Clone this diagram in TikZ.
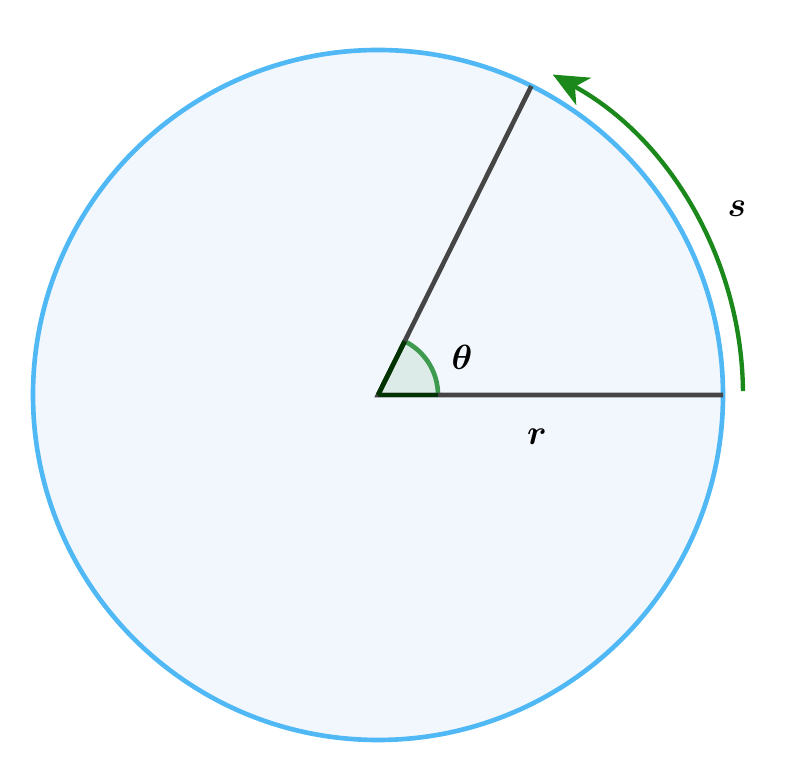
\documentclass[tikz,border=0pt]{standalone}
\usepackage{amssymb, amsmath}
\usepackage{bm}
\usepackage{tikz}
\usetikzlibrary{calc, arrows.meta, backgrounds}
\definecolor{circblue}{HTML}{4FB8F5}
\definecolor{circfill}{HTML}{F2F7FD}
\definecolor{raygray}{HTML}{454545}
\definecolor{arcgreen}{HTML}{1A881A}
\definecolor{anggreen}{HTML}{3E9A4E}
\tikzstyle{ray}=[raygray, line width=3.3pt]
\tikzstyle{lbl}=[inner sep=0pt, font=\fontsize{29}{32}\selectfont]
\tikzset{>={Stealth[length=25pt, width=22pt, inset=7pt]}}

\begin{document}
\begin{tikzpicture}
\useasboundingbox (0,0) rectangle (20.1,19.35);
% the centre and the two ends of the rays
\coordinate (O) at (9.45,9.475);
\coordinate (P) at ($(O)+(63.6:8.625)$);
\coordinate (Q) at ($(O)+(0:8.625)$);
% the circle
\draw[circblue, fill=circfill, line width=3.3pt] (O) circle (8.625);
% the angle
\fill[anggreen, opacity=.12] (O) -- ++(0:1.5) arc (0:63.6:1.5) -- cycle;
\draw[anggreen, line width=3.3pt] ($(O)+(0:1.5)$) arc (0:63.6:1.5);
% the rays
\draw[ray] (Q) -- (O) -- (P);
\draw[black!80!green, line width=3.3pt] (O) -- ++(0:1.5);
\draw[black!80!green, line width=3.3pt] (O) -- ++(63.6:1.5);
% the arc length
\draw[arcgreen, line width=3.1pt, ->] ($(O)+(0.6:9.125)$) arc (0.6:61.4:9.125);
% the labels
\node[lbl] (theta) at ($(O)+(2.1,0.95)$) {$\bm{\theta}$};
\node[lbl] (r) at ($(O)+(3.975,-1.05)$) {$\bm{r}$};
\node[lbl] (s) at ($(O)+(8.975,4.65)$) {$\bm{s}$};
\end{tikzpicture}
\end{document}
